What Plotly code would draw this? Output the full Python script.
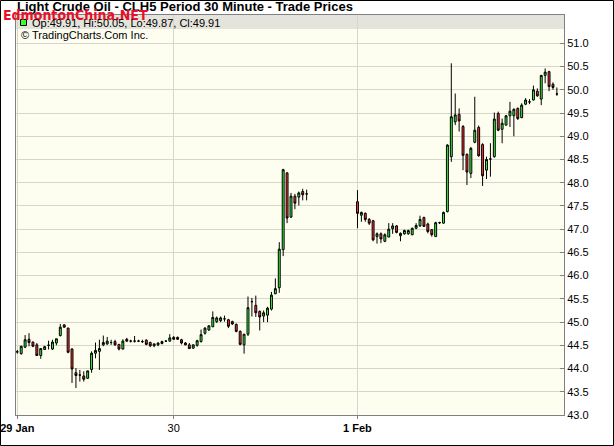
import plotly.graph_objects as go

# ---------------- data ----------------
# Session 1: 29 Jan - 30 Jan (bar slots 0..74)
s1_open = [44.36, 44.32, 44.46, 44.63, 44.57, 44.51, 44.28, 44.41, 44.50, 44.42,
           44.55, 44.71, 44.94, 44.87, 44.42, 43.91, 43.86, 43.84, 43.79, 43.98,
           44.33, 44.37, 44.51, 44.53, 44.56, 44.58, 44.52, 44.42, 44.63, 44.59,
           44.59, 44.59, 44.58, 44.61, 44.56, 44.49, 44.51, 44.54, 44.59, 44.59,
           44.67, 44.67, 44.62, 44.55, 44.51, 44.44, 44.50, 44.58, 44.76, 44.83,
           44.90, 45.01, 45.03, 45.07, 45.05, 45.01, 44.95, 44.80, 44.51, 44.74,
           45.44, 45.36, 45.23, 45.13, 45.15, 45.28, 45.61, 45.74, 46.56, 48.21,
           47.26, 47.71, 47.69, 47.81, 47.76]
s1_high = [44.40, 44.49, 44.72, 44.76, 44.58, 44.55, 44.44, 44.49, 44.60, 44.62,
           44.64, 44.96, 44.95, 44.88, 44.44, 44.01, 43.97, 43.94, 43.95, 44.37,
           44.56, 44.62, 44.71, 44.68, 44.62, 44.62, 44.53, 44.63, 44.66, 44.62,
           44.70, 44.62, 44.62, 44.63, 44.58, 44.54, 44.56, 44.60, 44.61, 44.74,
           44.70, 44.69, 44.64, 44.57, 44.55, 44.52, 44.62, 44.84, 44.89, 44.93,
           45.23, 45.12, 45.12, 45.14, 45.07, 45.03, 44.97, 44.82, 44.74, 45.55,
           45.52, 45.57, 45.25, 45.25, 45.33, 45.65, 45.94, 46.72, 48.30, 48.23,
           47.78, 47.76, 47.81, 47.87, 47.85]
s1_low = [44.32, 44.30, 44.44, 44.48, 44.46, 44.28, 44.21, 44.40, 44.41, 44.40,
          44.50, 44.69, 44.88, 44.33, 43.69, 43.58, 43.72, 43.72, 43.78, 43.91,
          44.22, 43.97, 44.48, 44.51, 44.51, 44.49, 44.39, 44.41, 44.57, 44.56,
          44.56, 44.57, 44.55, 44.50, 44.46, 44.46, 44.48, 44.52, 44.57, 44.58,
          44.62, 44.62, 44.52, 44.50, 44.42, 44.42, 44.47, 44.56, 44.73, 44.81,
          44.89, 44.98, 45.00, 45.01, 44.87, 44.94, 44.78, 44.50, 44.32, 44.70,
          45.12, 45.11, 44.82, 45.00, 45.00, 45.25, 45.60, 45.63, 46.42, 47.13,
          47.24, 47.43, 47.51, 47.62, 47.62]
s1_close = [44.36, 44.48, 44.62, 44.56, 44.48, 44.28, 44.43, 44.47, 44.50, 44.57,
            44.64, 44.89, 44.89, 44.35, 43.99, 43.85, 43.86, 43.77, 43.95, 44.33,
            44.39, 44.43, 44.56, 44.59, 44.56, 44.51, 44.42, 44.59, 44.59, 44.59,
            44.59, 44.59, 44.58, 44.52, 44.49, 44.53, 44.55, 44.58, 44.59, 44.66,
            44.63, 44.63, 44.55, 44.51, 44.43, 44.51, 44.60, 44.73, 44.87, 44.92,
            45.10, 45.09, 45.09, 45.07, 44.91, 44.96, 44.80, 44.52, 44.74, 45.31,
            45.44, 45.20, 45.11, 45.20, 45.30, 45.58, 45.72, 46.57, 48.28, 47.24,
            47.71, 47.56, 47.78, 47.74, 47.76]

# Session 2: 1 Feb - 2 Feb (bar slots 87..138)
s2_open = [47.59, 47.30, 47.34, 47.21, 47.18, 46.84, 46.90, 46.74, 46.83, 47.01,
           47.07, 46.86, 46.90, 46.90, 46.88, 47.02, 47.07, 47.25, 47.11, 46.99,
           46.84, 47.14, 47.13, 47.38, 48.56, 49.31, 49.47, 49.21, 48.61, 48.20,
           48.87, 49.19, 48.82, 48.27, 48.51, 48.56, 49.49, 49.15, 49.24, 49.44,
           49.44, 49.60, 49.40, 49.69, 49.74, 49.78, 49.97, 49.80, 50.31, 50.39,
           50.12, 49.91]
s2_high = [47.84, 47.38, 47.36, 47.24, 47.20, 46.93, 46.93, 46.91, 47.13, 47.13,
           47.09, 46.93, 46.99, 46.99, 47.03, 47.13, 47.29, 47.27, 47.14, 47.00,
           47.16, 47.16, 47.38, 48.83, 50.57, 49.92, 49.60, 49.24, 48.63, 48.77,
           49.85, 49.23, 48.85, 48.56, 48.85, 49.51, 49.53, 49.38, 49.46, 49.74,
           49.60, 49.62, 49.71, 49.82, 49.80, 50.09, 50.03, 50.32, 50.46, 50.41,
           50.16, 50.05]
s2_low = [47.02, 47.16, 47.16, 47.09, 46.74, 46.69, 46.70, 46.72, 46.83, 46.90,
          46.91, 46.74, 46.88, 46.88, 46.87, 47.00, 47.05, 47.05, 46.91, 46.84,
          46.84, 47.11, 47.12, 47.36, 48.45, 49.24, 49.10, 48.27, 47.95, 48.10,
          48.85, 48.56, 47.93, 48.08, 48.13, 48.54, 49.11, 48.85, 49.23, 49.20,
          49.00, 49.35, 49.39, 49.67, 49.69, 49.77, 49.85, 49.67, 50.14, 49.97,
          50.00, 49.87]
s2_close = [47.34, 47.36, 47.21, 47.13, 46.77, 46.90, 46.79, 46.88, 47.00, 47.07,
            46.93, 46.91, 46.97, 46.97, 47.02, 47.08, 47.21, 47.06, 46.95, 46.88,
            47.14, 47.14, 47.36, 48.81, 49.42, 49.46, 49.33, 48.59, 48.23, 48.74,
            49.13, 48.58, 48.15, 48.50, 48.51, 49.37, 49.13, 49.28, 49.44, 49.54,
            49.58, 49.38, 49.67, 49.78, 49.74, 50.00, 49.87, 50.31, 50.38, 50.07,
            50.05, 49.91]

session_starts = [0, 87]
day_tick_slots = [0, 40, 87]
day_tick_labels = ["<b>29 Jan</b>", "30", "<b>1 Feb</b>"]
price_ticks = [43.0, 43.5, 44.0, 44.5, 45.0, 45.5, 46.0, 46.5, 47.0, 47.5,
               48.0, 48.5, 49.0, 49.5, 50.0, 50.5, 51.0]

title_text = "Light Crude Oil - CLH5 Period 30 Minute - Trade Prices"
ohlc_text = "Op:49.91, Hi:50.05, Lo:49.87, Cl:49.91"
copyright_text = "\u00a9 TradingCharts.Com Inc."
watermark_text = "EdmontonChina.NET"

# ---------------- build ----------------
x = list(range(session_starts[0], session_starts[0] + len(s1_open))) + \
    list(range(session_starts[1], session_starts[1] + len(s2_open)))
opens = s1_open + s2_open
highs = s1_high + s2_high
lows = s1_low + s2_low
closes = s1_close + s2_close

W, H = 614, 446
L, R, T, B = 16, 50, 15, 31
pw, ph = W - L - R, H - T - B


def px(xp):
    return (xp - L) / pw


def py(yp):
    return (H - B - yp) / ph


fig = go.Figure(go.Candlestick(
    x=x, open=opens, high=highs, low=lows, close=closes,
    increasing=dict(line=dict(color="#000000", width=1), fillcolor="#33FF33"),
    decreasing=dict(line=dict(color="#000000", width=1), fillcolor="#FF3333"),
    whiskerwidth=0, hoverinfo="skip", showlegend=False,
))

font_family = "Liberation Sans, Arial, sans-serif"

fig.update_layout(
    width=W, height=H,
    margin=dict(l=L, r=R, t=T, b=B, pad=0, autoexpand=False),
    paper_bgcolor="#FFFFFF",
    plot_bgcolor="#FEFEF0",
    boxgap=0.3,
    font=dict(family=font_family, size=11, color="#000000"),
    xaxis=dict(
        range=[-0.33, 139.82], rangeslider=dict(visible=False), automargin=False,
        tickmode="array", tickvals=day_tick_slots, ticktext=day_tick_labels,
        showgrid=True, gridcolor="#D6D6CC", gridwidth=1,
        ticks="outside", ticklen=3, tickcolor="#808080",
        showline=True, linecolor="#808080", linewidth=1, mirror=True,
        zeroline=False, tickfont=dict(size=11, color="#000000"),
    ),
    yaxis=dict(
        range=[43.0, 51.61], side="right", automargin=False,
        tickmode="array", tickvals=price_ticks, tickformat=".1f",
        showgrid=True, gridcolor="#D6D6CC", gridwidth=1,
        ticks="inside", ticklen=4, tickcolor="#808080",
        showline=True, linecolor="#808080", linewidth=1, mirror=True,
        zeroline=False, tickfont=dict(size=11, color="#000000"),
    ),
    shapes=[
        # header band
        dict(type="rect", xref="paper", yref="paper", x0=0, x1=1,
             y0=py(29), y1=1, fillcolor="#E4E4DC", line=dict(width=0), layer="below"),
        # legend swatch
        dict(type="rect", xref="paper", yref="paper", x0=px(20.5), x1=px(26.5),
             y0=py(25.5), y1=py(19.5), fillcolor="#33FF33",
             line=dict(color="#000000", width=1), layer="above"),
        # outer frame
        dict(type="rect", xref="paper", yref="paper", x0=px(0.5), x1=px(613.5),
             y0=py(445.5), y1=py(0.5), line=dict(color="#000000", width=1),
             fillcolor="rgba(0,0,0,0)", layer="above"),
    ],
    annotations=[
        dict(text="<b>" + title_text + "</b>", xref="paper", yref="paper",
             x=px(15), y=py(7), xanchor="left", yanchor="middle", showarrow=False,
             font=dict(size=13, color="#000000", family=font_family)),
        dict(text="<b>" + watermark_text + "</b>", xref="paper", yref="paper",
             x=px(1), y=py(15), xanchor="left", yanchor="middle", showarrow=False,
             font=dict(size=14, color="#E8102A",
                       family="Liberation Sans Narrow, DejaVu Sans Condensed, sans-serif")),
        dict(text=ohlc_text, xref="paper", yref="paper",
             x=px(30), y=py(22.5), xanchor="left", yanchor="middle", showarrow=False,
             font=dict(size=11, color="#000000", family=font_family)),
        dict(text=copyright_text, xref="paper", yref="paper",
             x=px(19), y=py(35), xanchor="left", yanchor="middle", showarrow=False,
             font=dict(size=11, color="#000000", family=font_family)),
    ],
)

fig.write_html(
    "out.html",
    config={"displayModeBar": False},
    post_script="document.body.style.margin='0';document.body.style.overflow='hidden';",
)
